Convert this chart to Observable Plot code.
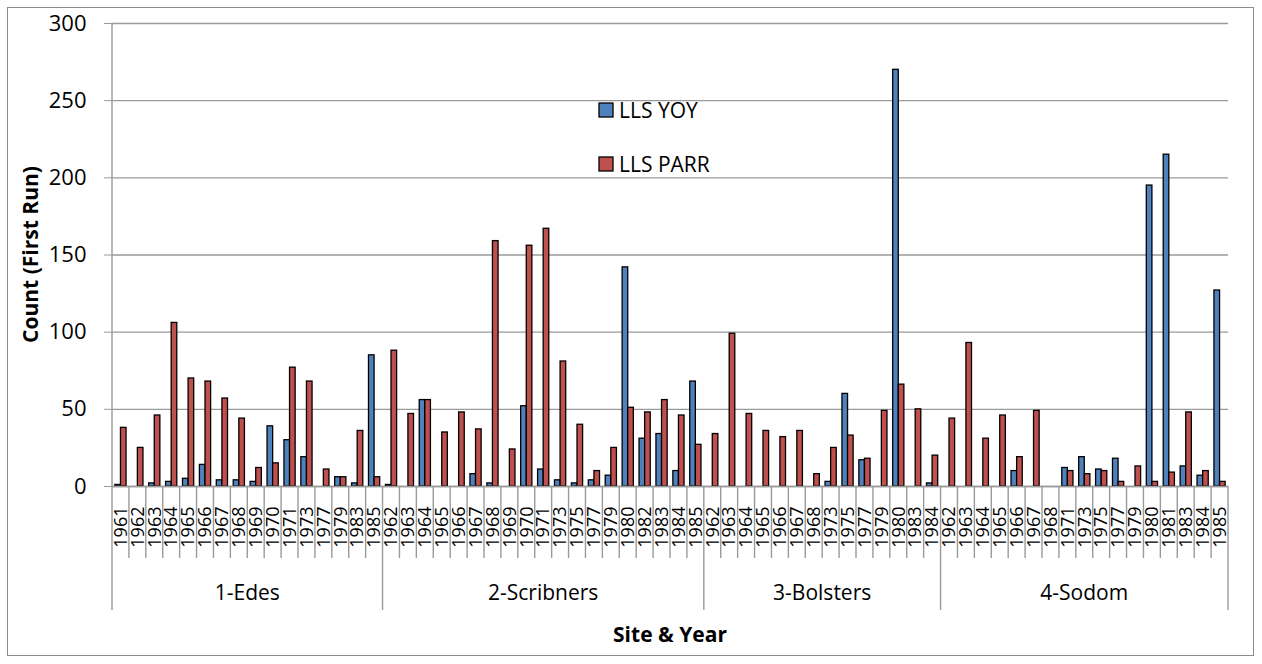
<!DOCTYPE html>
<html><head><meta charset="utf-8">
<script src="https://cdn.jsdelivr.net/npm/d3@7"></script>
<script src="https://cdn.jsdelivr.net/npm/@observablehq/plot@0.6"></script>
<style>
body{margin:0;background:#fff;}
#wrap{position:relative;width:1262px;height:664px;overflow:hidden}
#border{position:absolute;left:7px;top:7px;width:1247px;height:649px;border:1px solid #8c8c8c;box-sizing:border-box;pointer-events:none}
svg text{font-family:"Open Sans",sans-serif}
g[aria-label="year labels"] text{letter-spacing:1.6px}
</style></head><body><div id="wrap"><div id="border"></div></div>
<script>
const sites = ["1-Edes", "2-Scribners", "3-Bolsters", "4-Sodom"];
const seriesNames = ["LLS YOY", "LLS PARR"];
const seriesColors = ["#4F81BD", "#C0504D"];
const yTicks = [0, 50, 100, 150, 200, 250, 300];

const edesYears = [1961,1962,1963,1964,1965,1966,1967,1968,1969,1970,1971,1973,1977,1979,1983,1985];
const edesYoy   = [1,null,2,3,5,14,4,4,3,39,30,19,null,6,2,85];
const edesParr  = [38,25,46,106,70,68,57,44,12,15,77,68,11,6,36,6];

const scribYears = [1962,1963,1964,1965,1966,1967,1968,1969,1970,1971,1973,1975,1977,1979,1980,1982,1983,1984,1985];
const scribYoy   = [1,null,56,null,null,8,2,null,52,11,4,2,4,7,142,31,34,10,68];
const scribParr  = [88,47,56,35,48,37,159,24,156,167,81,40,10,25,51,48,56,46,27];

const bolsYears = [1962,1963,1964,1965,1966,1967,1968,1973,1975,1977,1979,1980,1983,1984];
const bolsYoy   = [null,null,null,null,null,null,null,3,60,17,null,270,null,2];
const bolsParr  = [34,99,47,36,32,36,8,25,33,18,49,66,50,20];

const sodomYears = [1962,1963,1964,1965,1966,1967,1968,1971,1973,1975,1977,1979,1980,1981,1983,1984,1985];
const sodomYoy   = [null,null,null,null,10,null,null,12,19,11,18,null,195,215,13,7,127];
const sodomParr  = [44,93,31,46,19,49,null,10,8,10,3,13,3,9,48,10,3];

const siteData = [
  {site: sites[0], years: edesYears, yoy: edesYoy, parr: edesParr},
  {site: sites[1], years: scribYears, yoy: scribYoy, parr: scribParr},
  {site: sites[2], years: bolsYears, yoy: bolsYoy, parr: bolsParr},
  {site: sites[3], years: sodomYears, yoy: sodomYoy, parr: sodomParr}
];
const rows = [];
siteData.forEach(({site, years, yoy, parr}) => years.forEach((yr, i) =>
  rows.push({site, year: String(yr), key: site + "|" + yr, yoy: yoy[i], parr: parr[i]})));
const keys = rows.map(d => d.key);

const W = 1262, H = 664, mL = 112, mR = 34, mT = 23, mB = 178;
const bw = (W - mL - mR) / keys.length;
const barW = 5.6;
const grid = "#9a9a9a";

const plot = Plot.plot({
  width: W, height: H, marginLeft: mL, marginRight: mR, marginTop: mT, marginBottom: mB,
  style: {fontFamily: "Open Sans", background: "white", color: "black", overflow: "visible"},
  x: {type: "band", domain: keys, padding: 0, axis: null},
  y: {domain: [0, 300]},
  marks: [
    Plot.gridY(yTicks, {stroke: grid, strokeOpacity: 1, strokeWidth: 1.4}),
    Plot.axisY(yTicks, {tickSize: 8, tickPadding: 18, fontSize: 22, stroke: grid, fill: "black", label: null, tickFormat: d => String(d)}),
    Plot.text(rows, {x: "key", text: "year", frameAnchor: "bottom", dy: 20, rotate: -90, textAnchor: "end", lineAnchor: "middle", fontSize: 18, fill: "black", ariaLabel: "year labels"}),
    Plot.barY(rows.filter(d => d.yoy != null), {x: "key", y: "yoy", fill: seriesColors[0], stroke: "black", strokeWidth: 1.3, insetLeft: bw / 2 - barW, insetRight: bw / 2}),
    Plot.barY(rows.filter(d => d.parr != null), {x: "key", y: "parr", fill: seriesColors[1], stroke: "black", strokeWidth: 1.3, insetLeft: bw / 2, insetRight: bw / 2 - barW}),
    Plot.ruleY([0], {stroke: grid, strokeWidth: 1.4})
  ]
});

const svg = d3.select(plot);
const xs = plot.scale("x"), ys = plot.scale("y");
const y0 = ys.apply(0), yTop = ys.apply(300);
const g = svg.append("g");
// y axis line
g.append("line").attr("x1", mL).attr("x2", mL).attr("y1", yTop).attr("y2", y0).attr("stroke", grid).attr("stroke-width", 1.4);
// category and group dividers, group labels
let idx = 0;
siteData.forEach((s, si) => {
  const startX = xs.apply(rows[idx].key);
  const endKey = rows[idx + s.years.length - 1].key;
  const endX = xs.apply(endKey) + xs.bandwidth;
  for (let i = 0; i < s.years.length; i++) {
    const bx = xs.apply(rows[idx + i].key);
    g.append("line").attr("x1", bx).attr("x2", bx).attr("y1", y0).attr("y2", i === 0 ? 610 : 558)
      .attr("stroke", grid).attr("stroke-width", 1.4);
  }
  if (si === siteData.length - 1) {
    g.append("line").attr("x1", endX).attr("x2", endX).attr("y1", y0).attr("y2", 610).attr("stroke", grid).attr("stroke-width", 1.4);
  }
  g.append("text").attr("x", (startX + endX) / 2).attr("y", 592).attr("text-anchor", "middle")
    .attr("dominant-baseline", "central").attr("font-size", 21).attr("fill", "black").text(s.site);
  idx += s.years.length;
});
// axis titles
g.append("text").attr("transform", `translate(30,${(yTop + y0) / 2}) rotate(-90)`).attr("text-anchor", "middle")
  .attr("dominant-baseline", "central").attr("font-size", 21).attr("font-weight", "bold").attr("fill", "black").text("Count (First Run)");
g.append("text").attr("x", (mL + W - mR) / 2).attr("y", 634).attr("text-anchor", "middle")
  .attr("dominant-baseline", "central").attr("font-size", 21).attr("font-weight", "bold").attr("fill", "black").text("Site & Year");
// legend
const legY = [110, 164];
seriesNames.forEach((name, i) => {
  g.append("rect").attr("x", 599).attr("y", legY[i] - 7).attr("width", 14).attr("height", 14)
    .attr("fill", seriesColors[i]).attr("stroke", "black").attr("stroke-width", 1.3);
  g.append("text").attr("x", 619).attr("y", legY[i]).attr("text-anchor", "start").attr("dominant-baseline", "central")
    .attr("font-size", 21).attr("fill", "black").text(name);
});

document.getElementById("wrap").prepend(plot);
</script>
</body></html>
